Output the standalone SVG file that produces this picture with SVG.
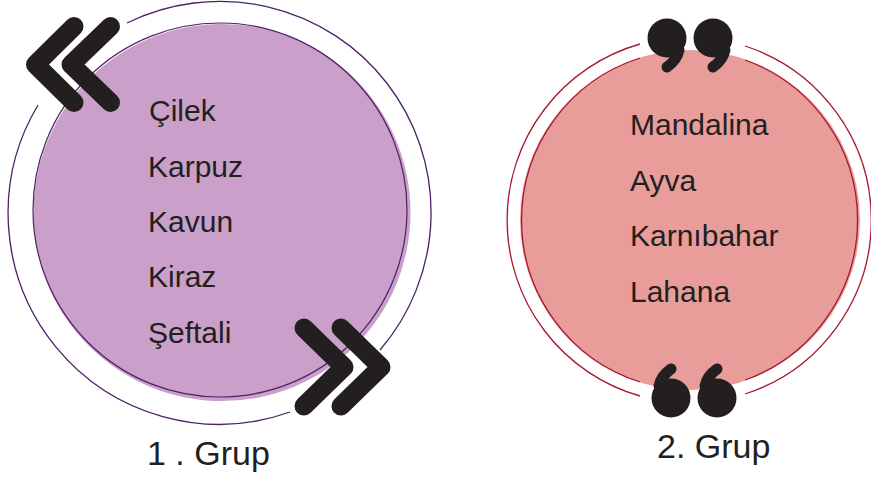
<svg xmlns="http://www.w3.org/2000/svg" width="871" height="484" viewBox="0 0 871 484">
<style>
.lbl{font-family:"Liberation Sans",Arial,sans-serif;fill:#231f20;font-size:30px}
.grp{font-family:"Liberation Sans",Arial,sans-serif;fill:#231f20;font-size:34px}
.ringP{fill:none;stroke:#4b2268;stroke-width:1.3}
.ringR{fill:none;stroke:#a6192e;stroke-width:1.3}
.chev{fill:none;stroke:#231f20;stroke-width:19;stroke-linecap:round;stroke-linejoin:round}
.qt{fill:#231f20}
</style>
<defs>
<g id="q9">
<circle cx="0" cy="0" r="19.5" class="qt"/>
<path d="M12 12 Q10 22 0 29" fill="none" stroke="#231f20" stroke-width="11" stroke-linecap="round"/>
</g>
</defs>
<rect width="871" height="484" fill="#ffffff"/>

<g id="group1">
<path class="ringP" d="M127 23 A211 211 0 0 1 380 350"/>
<path class="ringP" d="M290 412 A211 211 0 0 1 38 105"/>
<circle cx="222" cy="212.5" r="188.5" fill="#ca9fc9"/>
<circle cx="220" cy="210" r="187" fill="none" stroke="#4b2268" stroke-width="1.2"/>
<path class="chev" d="M74 26.5 L35.5 64.5 L74 102.5"/>
<path class="chev" d="M110.5 26.5 L71 64.5 L110.5 102.5"/>
<path class="chev" d="M304 328 L344 367 L304 406"/>
<path class="chev" d="M341 328 L381 367 L341 406"/>
<text class="lbl" x="149" y="121">Çilek</text>
<text class="lbl" x="148" y="176.5">Karpuz</text>
<text class="lbl" x="148" y="232">Kavun</text>
<text class="lbl" x="148" y="287">Kiraz</text>
<text class="lbl" x="148" y="342.5">Şeftali</text>
<text class="grp" x="147" y="465">1 . Grup</text>
</g>

<g id="group2">
<path class="ringR" d="M745 46 A183 183 0 0 1 745 394"/>
<path class="ringR" d="M640 396 A183 183 0 0 1 640 44"/>
<circle cx="690" cy="220" r="170" fill="#e99d9a"/>
<path class="ringR" d="M745 60 A170 170 0 0 1 745 380"/>
<path class="ringR" d="M640 382 A170 170 0 0 1 640 58"/>
<use href="#q9" x="667" y="38"/>
<use href="#q9" x="713" y="38"/>
<use href="#q9" transform="translate(671 398) rotate(180)"/>
<use href="#q9" transform="translate(717 398) rotate(180)"/>
<text class="lbl" x="630" y="135">Mandalina</text>
<text class="lbl" x="630" y="190.5">Ayva</text>
<text class="lbl" x="630" y="246">Karnıbahar</text>
<text class="lbl" x="630" y="301.5">Lahana</text>
<text class="grp" x="657" y="458">2. Grup</text>
</g>
</svg>
